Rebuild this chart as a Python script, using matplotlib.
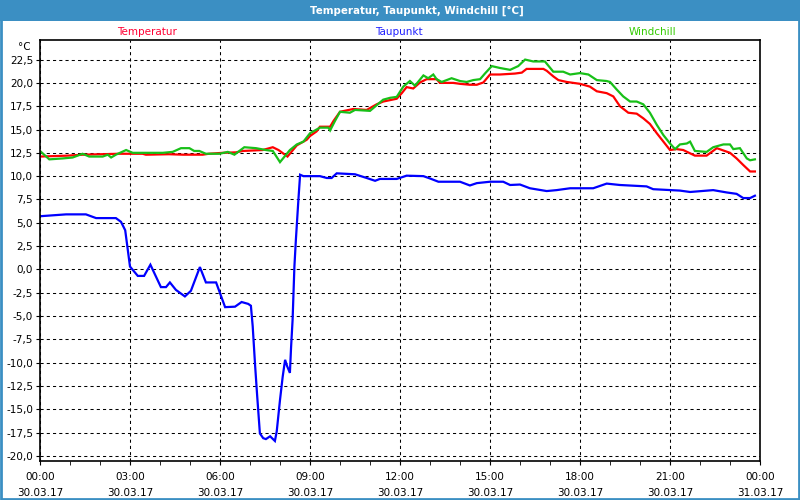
import matplotlib
matplotlib.use("Agg")
import matplotlib.pyplot as plt
from matplotlib.patches import Rectangle
from matplotlib.ticker import FuncFormatter, MultipleLocator

# hours since 30.03.17 00:00
dew_h = [0, 0.87, 1.53, 1.87, 2.53, 2.7, 2.84, 3.0, 3.26, 3.47, 3.68, 4.03, 4.2, 4.33, 4.53,
         4.83, 5.03, 5.33, 5.53, 5.87, 6.17, 6.5, 6.72, 6.94, 7.03, 7.09, 7.17, 7.24, 7.33,
         7.44, 7.53, 7.67, 7.83, 7.89, 8.0, 8.09, 8.17, 8.24, 8.33, 8.37, 8.42, 8.48, 8.53,
         8.61, 8.67, 8.78, 9.33, 9.56, 9.72, 9.89, 10.5, 10.89, 11.17, 11.33, 11.89, 12.22,
         12.78, 13.0, 13.28, 14.0, 14.33, 14.56, 15.0, 15.44, 15.67, 16.0, 16.33, 16.89,
         17.22, 17.67, 18.44, 18.89, 19.33, 20.22, 20.44, 21.33, 21.67, 22.44, 22.89, 23.22,
         23.44, 23.67, 23.83]
dew_v = [5.7, 5.9, 5.9, 5.5, 5.5, 5.1, 4.2, 0.3, -0.7, -0.7, 0.5, -1.9, -1.9, -1.4, -2.2,
         -2.9, -2.3, 0.25, -1.4, -1.4, -4.05, -4.0, -3.5, -3.7, -3.9, -6.1, -10.3, -13.6, -17.6,
         -18.1, -18.2, -17.9, -18.4, -17.4, -14.0, -11.5, -9.7, -10.4, -11.1, -8.3, -5.4, 0.3, 3.2,
         7.3, 10.15, 10.0, 10.0, 9.8, 9.8, 10.3, 10.2, 9.8, 9.5, 9.7, 9.7, 10.05,
         10.0, 9.75, 9.4, 9.4, 9.0, 9.25, 9.4, 9.4, 9.05, 9.1, 8.7, 8.4,
         8.5, 8.7, 8.7, 9.2, 9.05, 8.9, 8.6, 8.45, 8.3, 8.5, 8.25, 8.1,
         7.65, 7.65, 7.9]

temp_h = [0, 0.93, 1.42, 2.64, 3.42, 3.53, 4.3, 4.77, 5.42, 5.63, 6.09, 6.53, 6.76, 7.42,
          7.76, 7.95, 8.25, 8.56, 8.89, 9.0, 9.22, 9.33, 9.67, 9.78, 10.0, 10.44, 10.89, 11.22,
          11.44, 11.89, 12.06, 12.22, 12.44, 12.67, 12.89, 13.22, 13.33, 13.78, 14.0, 14.33,
          14.56, 14.78, 15.0, 15.33, 15.83, 16.06, 16.22, 16.78, 16.89, 17.11, 17.28, 17.56,
          18.0, 18.33, 18.56, 18.89, 19.11, 19.33, 19.61, 19.89, 20.11, 20.33, 20.56, 20.78,
          21.0, 21.22, 21.44, 21.83, 22.22, 22.56, 23.0, 23.22, 23.44, 23.67, 23.83]
temp_v = [12.1, 12.2, 12.3, 12.4, 12.4, 12.3, 12.35, 12.3, 12.3, 12.4, 12.5, 12.55, 12.7, 12.8,
          13.1, 12.8, 12.1, 13.3, 13.9, 14.3, 14.8, 15.3, 15.3, 15.9, 16.9, 17.2, 17.1, 17.7,
          18.0, 18.3, 18.9, 19.55, 19.4, 20.05, 20.4, 20.4, 20.0, 20.0, 19.9, 19.8,
          19.8, 20.05, 20.9, 20.9, 21.0, 21.1, 21.5, 21.5, 21.3, 20.7, 20.3, 20.1,
          19.9, 19.6, 19.1, 18.9, 18.55, 17.5, 16.8, 16.7, 16.2, 15.6, 14.6, 13.7,
          12.8, 12.9, 12.8, 12.2, 12.2, 13.0, 12.5, 11.9, 11.2, 10.5, 10.5]

wind_h = [0, 0.31, 0.76, 1.09, 1.42, 1.64, 2.09, 2.26, 2.37, 2.53, 2.87, 3.09, 4.09, 4.42,
          4.7, 4.98, 5.14, 5.31, 5.53, 5.98, 6.26, 6.48, 6.81, 7.2, 7.53, 7.76, 8.0, 8.33,
          8.56, 8.78, 9.0, 9.33, 9.61, 9.67, 9.83, 10.0, 10.33, 10.5, 11.0, 11.44, 11.67,
          11.89, 12.11, 12.33, 12.5, 12.78, 12.94, 13.11, 13.22, 13.39, 13.72, 14.0, 14.22,
          14.44, 14.67, 14.83, 15.06, 15.33, 15.67, 15.94, 16.17, 16.44, 16.83, 17.11, 17.44,
          17.67, 18.0, 18.28, 18.56, 18.89, 19.0, 19.22, 19.44, 19.67, 19.89, 20.11, 20.33,
          20.56, 20.78, 21.0, 21.17, 21.33, 21.56, 21.67, 21.83, 22.22, 22.44, 22.78, 23.0,
          23.11, 23.33, 23.56, 23.67, 23.83]
wind_v = [12.7, 11.8, 11.9, 12.0, 12.4, 12.1, 12.1, 12.3, 12.0, 12.3, 12.8, 12.5, 12.5, 12.6,
          13.0, 13.0, 12.7, 12.7, 12.4, 12.4, 12.6, 12.3, 13.1, 13.0, 12.8, 12.7, 11.5, 12.8,
          13.4, 13.7, 14.6, 15.2, 15.2, 14.9, 15.9, 16.9, 16.8, 17.1, 17.0, 18.2, 18.4,
          18.5, 19.6, 20.2, 19.7, 20.8, 20.5, 20.9, 20.4, 20.1, 20.5, 20.2, 20.1,
          20.3, 20.4, 21.0, 21.8, 21.6, 21.4, 21.8, 22.5, 22.3, 22.3, 21.2, 21.2,
          20.9, 21.05, 20.9, 20.3, 20.2, 20.1, 19.3, 18.55, 18.0, 18.0, 17.7, 16.8,
          15.5, 14.4, 13.5, 12.9, 13.4, 13.5, 13.7, 12.7, 12.6, 13.1, 13.4, 13.4,
          12.9, 13.0, 11.9, 11.7, 11.8]

series_names = ["Temperatur", "Taupunkt", "Windchill"]
series_colors = ["#ff0000", "#0000ff", "#18c018"]
label_colors = ["#ff0033", "#2020ff", "#33cc00"]

x_ticks = [0, 3, 6, 9, 12, 15, 18, 21, 24]
x_labels = ["00:00\n30.03.17", "03:00\n30.03.17", "06:00\n30.03.17", "09:00\n30.03.17",
            "12:00\n30.03.17", "15:00\n30.03.17", "18:00\n30.03.17", "21:00\n30.03.17",
            "00:00\n31.03.17"]

title = "Temperatur, Taupunkt, Windchill [°C]"
bar_blue = "#3b8fc3"

plt.rcParams["font.family"] = ["DejaVu Sans"]

fig = plt.figure(figsize=(8, 5), dpi=100)
fig.patch.set_facecolor("white")
ax = fig.add_axes([0.05, 0.078, 0.90, 0.842])

for h, v, c in zip([temp_h, dew_h, wind_h], [temp_v, dew_v, wind_v], series_colors):
    ax.plot(h, v, color=c, lw=1.6, solid_joinstyle="miter")

ax.set_xlim(0, 24)
ax.set_ylim(-20.55, 24.6)
ax.set_xticks(x_ticks)
ax.set_xticklabels(x_labels, fontsize=7.5, linespacing=1.75)
ax.xaxis.set_minor_locator(MultipleLocator(1))
ax.yaxis.set_major_locator(MultipleLocator(2.5))
ax.yaxis.set_major_formatter(FuncFormatter(lambda v, p: f"{v:.1f}".replace(".", ",")))
ax.tick_params(axis="y", labelsize=7.5, length=3, pad=2)
ax.tick_params(axis="x", which="major", length=3, pad=5)
ax.tick_params(axis="x", which="minor", length=3)
ax.set_yticks([v for v in ax.get_yticks() if -20.1 < v < 22.6])
ax.grid(True, which="major", color="black", linestyle=(0, (3, 3)), linewidth=0.75)
for s in ax.spines.values():
    s.set_linewidth(1.2)

fig.text(0.038, 0.905, "°C", fontsize=7.5, ha="right", va="center")

for name, c, xf in zip(series_names, label_colors, [0.184, 0.499, 0.815]):
    fig.text(xf, 0.936, name, color=c, fontsize=7.5, ha="center", va="center")

# title bar and frame
fig.patches.append(Rectangle((0, 0.958), 1, 0.042, transform=fig.transFigure,
                             facecolor=bar_blue, edgecolor="none", zorder=0))
fig.patches.append(Rectangle((0.001, 0.002), 0.998, 0.996, transform=fig.transFigure,
                             facecolor="none", edgecolor=bar_blue, lw=2, zorder=5))
fig.text(0.521, 0.979, title, color="white", fontsize=7.4, fontweight="bold",
         ha="center", va="center")

fig.savefig("out.png", dpi=100)
